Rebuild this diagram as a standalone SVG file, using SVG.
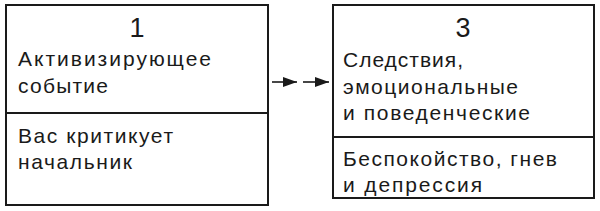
<svg xmlns="http://www.w3.org/2000/svg" width="600" height="211" viewBox="0 0 600 211">
  <defs>
    <style>
      .box { fill: #fff; stroke: #1a1a1a; stroke-width: 2; }
      .div { stroke: #1a1a1a; stroke-width: 2; }
      .t { font-family: "Liberation Sans", Arial, sans-serif; font-size: 21px; fill: #1a1a1a; }
      .num { font-family: "Liberation Sans", Arial, sans-serif; font-size: 27px; fill: #1a1a1a; text-anchor: middle; }
      .conn { stroke: #1a1a1a; stroke-width: 1.6; fill: none; }
    </style>
    <marker id="ah" viewBox="0 0 14 10" markerWidth="14" markerHeight="10" refX="14" refY="5" orient="auto" markerUnits="userSpaceOnUse">
      <path d="M0,0 L14,5 L0,10 Z" fill="#1a1a1a"/>
    </marker>
  </defs>
  <rect width="600" height="211" fill="#fff"/>
  <g id="node1">
    <rect class="box" x="6" y="5" width="262" height="200"/>
    <line class="div" x1="6" y1="113" x2="268" y2="113"/>
    <text class="num" x="137" y="37">1</text>
    <text class="t" x="18" y="66" textLength="193" lengthAdjust="spacing">Активизирующее</text>
    <text class="t" x="18" y="93" textLength="90" lengthAdjust="spacing">событие</text>
    <text class="t" x="18" y="143" textLength="155" lengthAdjust="spacing">Вас критикует</text>
    <text class="t" x="18" y="169" textLength="114" lengthAdjust="spacing">начальник</text>
  </g>
  <g id="node3">
    <rect class="box" x="333" y="5" width="261" height="193"/>
    <line class="div" x1="333" y1="137" x2="594" y2="137"/>
    <text class="num" x="463" y="37">3</text>
    <text class="t" x="343" y="67" textLength="120" lengthAdjust="spacing">Следствия,</text>
    <text class="t" x="343" y="94" textLength="175" lengthAdjust="spacing">эмоциональные</text>
    <text class="t" x="343" y="120" textLength="187" lengthAdjust="spacing">и поведенческие</text>
    <text class="t" x="343" y="166" textLength="214" lengthAdjust="spacing">Беспокойство, гнев</text>
    <text class="t" x="343" y="192" textLength="139" lengthAdjust="spacing">и депрессия</text>
  </g>
  <g id="connectors">
    <line class="conn" x1="272" y1="82" x2="297" y2="82" marker-end="url(#ah)"/>
    <line class="conn" x1="303" y1="82" x2="329" y2="82" marker-end="url(#ah)"/>
  </g>
</svg>
